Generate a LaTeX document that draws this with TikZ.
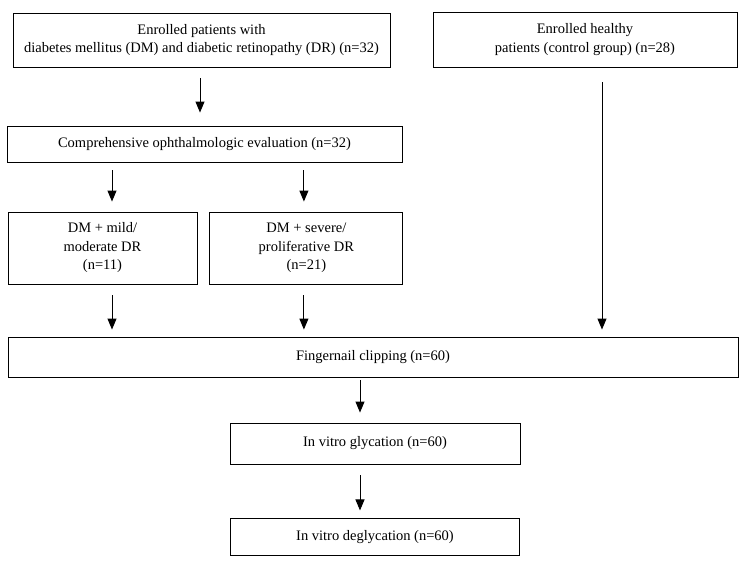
\documentclass[tikz,border=0pt]{standalone}
\usepackage{fontspec}
\setmainfont{Liberation Serif}
\usetikzlibrary{arrows.meta, positioning}

\begin{document}
\begin{tikzpicture}[
    x=1pt, y=-1pt,
    stage/.style = {
      draw, line width=0.9pt,
      align=center,
      inner sep=2pt,
      font=\fontsize{14.5}{18.5}\selectfont
    },
    flow/.style = {-{Triangle[length=11pt,width=9pt]}, line width=1pt}
  ]
    \useasboundingbox (0,0) rectangle (748,567);

    \node[stage, minimum width=377pt, minimum height=54pt] (enrolled) at (201.5,40)
      {Enrolled patients with\\diabetes mellitus (DM) and diabetic retinopathy (DR) (n=32)};
    \node[stage, minimum width=304pt, minimum height=55pt] (healthy) at (585,39.5)
      {Enrolled healthy\\patients (control group) (n=28)};

    \node[stage, minimum width=395pt, minimum height=36pt] (evaluation) at (204.5,144)
      {Comprehensive ophthalmologic evaluation (n=32)};

    \node[stage, minimum width=189pt, minimum height=72pt] (mild) at (102.5,248)
      {DM + mild/\\moderate DR\\(n=11)};
    \node[stage, minimum width=193pt, minimum height=72pt, right=12pt of mild] (severe)
      {DM + severe/\\proliferative DR\\(n=21)};

    \node[stage, minimum width=730pt, minimum height=40pt] (clipping) at (373,357)
      {Fingernail clipping (n=60)};

    \node[stage, minimum width=290pt, minimum height=41pt] (glycation) at (375,443.5)
      {In vitro glycation (n=60)};
    \node[stage, minimum width=289pt, minimum height=37pt, below=54pt of glycation] (deglycation)
      {In vitro deglycation (n=60)};

    % arrows (free-standing, with gaps to the boxes)
    \draw[flow, shorten <=11pt, shorten >=13pt]
      ([xshift=-1.5pt]enrolled.south) -- ([xshift=-1.5pt]enrolled.south |- evaluation.north);

    \draw[flow, shorten <=8pt, shorten >=10pt]
      ([xshift=9.5pt]mild.north |- evaluation.south) -- ([xshift=9.5pt]mild.north);
    \draw[flow, shorten <=8pt, shorten >=10pt]
      ([xshift=-2.5pt]severe.north |- evaluation.south) -- ([xshift=-2.5pt]severe.north);

    \draw[flow, shorten <=11pt, shorten >=7pt]
      ([xshift=9.5pt]mild.south) -- ([xshift=9.5pt]mild.south |- clipping.north);
    \draw[flow, shorten <=11pt, shorten >=7pt]
      ([xshift=-2.5pt]severe.south) -- ([xshift=-2.5pt]severe.south |- clipping.north);
    \draw[flow, shorten <=15pt, shorten >=7pt]
      ([xshift=17pt]healthy.south) -- ([xshift=17pt]healthy.south |- clipping.north);

    \draw[flow, shorten <=3pt, shorten >=10pt]
      ([xshift=-15pt]glycation.north |- clipping.south) -- ([xshift=-15pt]glycation.north);
    \draw[flow, shorten <=11pt, shorten >=8pt]
      ([xshift=-15pt]glycation.south) -- ([xshift=-15pt]glycation.south |- deglycation.north);

  \end{tikzpicture}
\end{document}
